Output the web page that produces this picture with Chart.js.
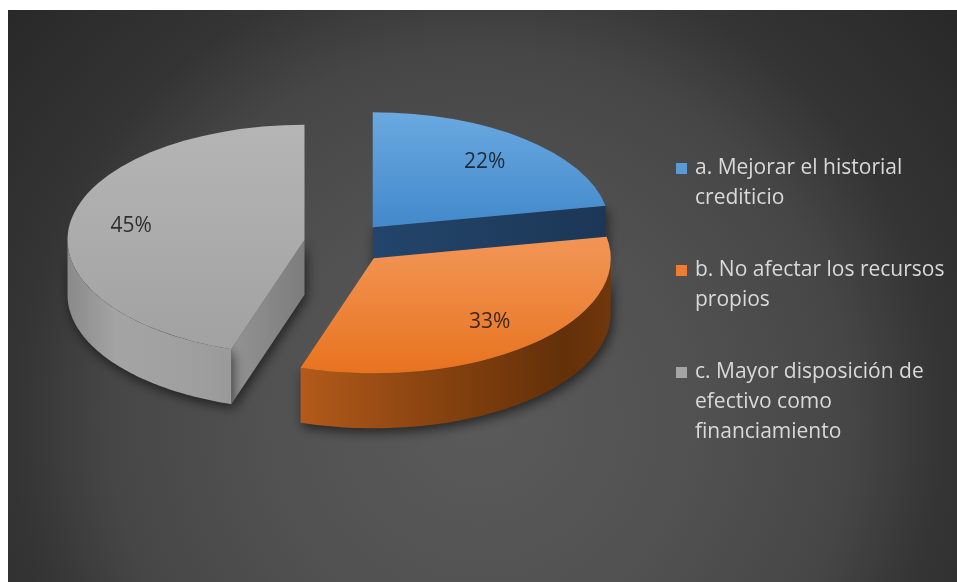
<!DOCTYPE html>
<html>
<head>
<meta charset="utf-8">
<script src="https://cdn.jsdelivr.net/npm/chart.js@4/dist/chart.umd.min.js"></script>
<style>
  html, body { margin: 0; padding: 0; background: #ffffff; }
  #frame { position: absolute; left: 8px; top: 10px; width: 949px; height: 572px; }
</style>
</head>
<body>
<div id="frame"><canvas id="pie" width="949" height="572"></canvas></div>
<script>
// Survey answers and their shares (percent)
const categories = [
  'a. Mejorar el historial\ncrediticio',
  'b. No afectar los recursos\npropios',
  'c. Mayor disposición de\nefectivo como\nfinanciamiento'
];
const shares = [22, 33, 45];

// Colours
const swatchColors = ['#5b9bd5', '#ed7d31', '#a5a5a5'];
const topStops = [
  [[0, '#6aa9e0'], [0.5, '#4289cb'], [1, '#3a80c2']],
  [[0, '#f4a064'], [0.5, '#f19150'], [1, '#e8731e']],
  [[0, '#b5b5b5'], [1, '#a1a1a1']]
];
const wallStops = [
  [[0, '#1f3d5f'], [1, '#1f3d5f']],
  [[0, '#b35a1b'], [0.45, '#86420f'], [0.85, '#633008'], [1, '#70370c']],
  [[0, '#8a8a8a'], [0.3, '#a4a4a4'], [0.7, '#a0a0a0'], [1, '#9a9a9a']]
];
const cutStops = [
  [[0, '#23456b'], [1, '#1c3756']],
  [[0, '#a0501a'], [1, '#7a3c10']],
  [[0, '#939393'], [1, '#7d7d7d']]
];

// Tilted-disc projection of the pie
const R0 = 200;           // radius Chart.js lays the pie out with
const CX = 338, CY = 233; // projected centre on the canvas
const AX = 237, BY = 115; // projected semi-axes
const EXPLODE = 42;       // slice separation (horizontal px)
const DEPTH = 55;         // thickness of the disc
const FONT = '21px "Open Sans", "Noto Sans", sans-serif';

function gradient(ctx, x0, y0, x1, y1, stops) {
  const g = ctx.createLinearGradient(x0, y0, x1, y1);
  stops.forEach(([t, c]) => g.addColorStop(t, c));
  return g;
}

const pie3d = {
  id: 'pie3d',
  beforeDraw(chart) {
    const { ctx, width, height } = chart;
    const g = ctx.createRadialGradient(472, 410, 0, 472, 410, 620);
    g.addColorStop(0, '#5a5a5a');
    g.addColorStop(0.35, '#515151');
    g.addColorStop(0.6, '#464646');
    g.addColorStop(0.75, '#343434');
    g.addColorStop(1, '#292929');
    ctx.save();
    ctx.fillStyle = g;
    ctx.fillRect(0, 0, width, height);
    ctx.restore();
  },
  beforeDatasetDraw(chart, args) {
    const ctx = chart.ctx;
    const arcs = chart.getDatasetMeta(args.index).data;
    const sx = AX / R0, sy = BY / R0;
    const E = EXPLODE / sx;

    const geo = arcs.map(arc => {
      const p = arc.getProps(['x', 'y', 'startAngle', 'endAngle', 'outerRadius'], true);
      const mid = (p.startAngle + p.endAngle) / 2;
      const vx = p.x + Math.cos(mid) * E, vy = p.y + Math.sin(mid) * E;
      const proj = (px, py) => [CX + (px - p.x) * sx, CY + (py - p.y) * sy];
      const rim = a => proj(vx + p.outerRadius * Math.cos(a), vy + p.outerRadius * Math.sin(a));
      return { arc, ...p, mid, vx, vy, proj, rim, v: proj(vx, vy) };
    });

    // walls and cut faces
    ctx.save();
    ctx.shadowColor = 'rgba(0,0,0,0.6)';
    ctx.shadowBlur = 12;
    ctx.shadowOffsetX = 2;
    ctx.shadowOffsetY = 4;
    geo.forEach((g, i) => {
      const faces = [
        [g.startAngle, Math.cos(g.startAngle) < -1e-6],
        [g.endAngle, Math.cos(g.endAngle) > 1e-6]
      ];
      faces.forEach(([a, visible]) => {
        if (!visible) return;
        const r = g.rim(a);
        ctx.beginPath();
        ctx.moveTo(g.v[0], g.v[1]);
        ctx.lineTo(r[0], r[1]);
        ctx.lineTo(r[0], r[1] + DEPTH);
        ctx.lineTo(g.v[0], g.v[1] + DEPTH);
        ctx.closePath();
        const lx = Math.min(g.v[0], r[0]), rx = Math.max(g.v[0], r[0]);
        ctx.fillStyle = gradient(ctx, lx, 0, rx, 0, cutStops[i]);
        ctx.fill();
      });
      const a0 = Math.max(g.startAngle, 0), a1 = Math.min(g.endAngle, Math.PI);
      if (a1 > a0) {
        const n = 80, pts = [];
        for (let k = 0; k <= n; k++) pts.push(g.rim(a0 + (a1 - a0) * k / n));
        ctx.beginPath();
        pts.forEach((q, k) => k ? ctx.lineTo(q[0], q[1]) : ctx.moveTo(q[0], q[1]));
        for (let k = n; k >= 0; k--) ctx.lineTo(pts[k][0], pts[k][1] + DEPTH);
        ctx.closePath();
        const xs = pts.map(q => q[0]);
        ctx.fillStyle = gradient(ctx, Math.min(...xs), 0, Math.max(...xs), 0, wallStops[i]);
        ctx.fill();
      }
    });
    ctx.restore();

    // top faces, drawn by the arc elements under the tilt transform
    geo.forEach(g => {
      ctx.save();
      ctx.translate(CX, CY);
      ctx.scale(sx, sy);
      ctx.translate(-g.x, -g.y);
      ctx.translate(Math.cos(g.mid) * E, Math.sin(g.mid) * E);
      g.arc.draw(ctx, chart.chartArea);
      ctx.restore();
    });

    // value labels
    ctx.save();
    ctx.font = FONT;
    ctx.textAlign = 'center';
    ctx.textBaseline = 'middle';
    ctx.fillStyle = 'rgba(18,18,18,0.82)';
    geo.forEach((g, i) => {
      const f = 0.74;
      const p = g.proj(g.vx + Math.cos(g.mid) * g.outerRadius * f, g.vy + Math.sin(g.mid) * g.outerRadius * f);
      ctx.fillText(shares[i] + '%', p[0], p[1]);
    });
    ctx.restore();
    return false;
  },
  afterDraw(chart) {
    const ctx = chart.ctx;
    const boxX = 668, textX = 687, lineH = 30, gap = 42;
    let y = 158.5;
    ctx.save();
    ctx.font = FONT;
    ctx.textBaseline = 'middle';
    ctx.textAlign = 'left';
    chart.data.labels.forEach((label, i) => {
      ctx.fillStyle = swatchColors[i];
      ctx.fillRect(boxX, y - 5.5, 11, 11);
      ctx.fillStyle = '#d9d9d9';
      const lines = label.split('\n');
      lines.forEach((ln, k) => ctx.fillText(ln, textX, y + k * lineH));
      y += lines.length * lineH + gap;
    });
    ctx.restore();
  }
};

new Chart(document.getElementById('pie'), {
  type: 'pie',
  data: {
    labels: categories,
    datasets: [{
      data: shares,
      borderWidth: 0,
      offset: 0,
      hoverOffset: 0,
      backgroundColor(c) {
        const area = c.chart.chartArea;
        if (!area) return swatchColors[c.dataIndex];
        const cy = (area.top + area.bottom) / 2;
        return gradient(c.chart.ctx, 0, cy - R0, 0, cy + R0, topStops[c.dataIndex]);
      }
    }]
  },
  options: {
    responsive: false,
    animation: false,
    devicePixelRatio: 1,
    radius: R0,
    events: [],
    plugins: {
      legend: { display: false },
      tooltip: { enabled: false }
    }
  },
  plugins: [pie3d]
});
</script>
</body>
</html>
